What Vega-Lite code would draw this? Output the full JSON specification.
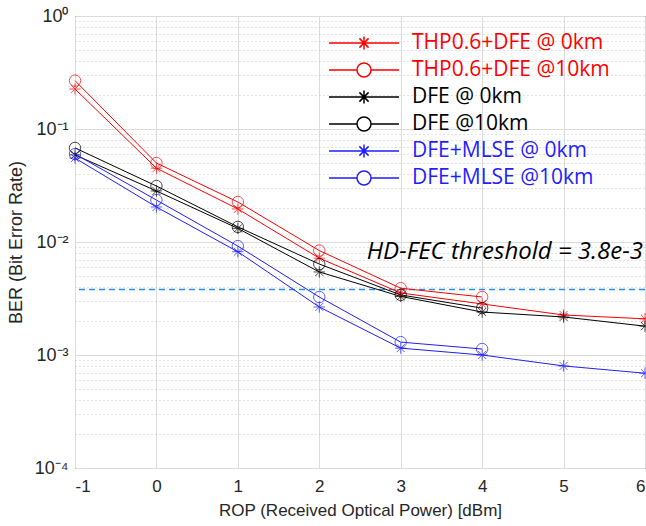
{
  "$schema": "https://vega.github.io/schema/vega-lite/v6.json",
  "width": 570,
  "height": 452,
  "autosize": {"type": "none"},
  "padding": {"left": 75, "top": 16, "right": 1, "bottom": 58},
  "background": "white",
  "config": {
    "view": {"stroke": "#262626", "strokeWidth": 1},
    "axis": {"labelFont": "Liberation Sans", "titleFont": "Liberation Sans", "labelColor": "#262626", "titleColor": "#262626", "titleFontWeight": "normal", "domain": false, "ticks": false}
  },
  "datasets": {
    "curves": [
      {"series": "THP0.6+DFE @ 0km", "marker": "star", "rop": -1, "ber": 0.226},
      {"series": "THP0.6+DFE @ 0km", "marker": "star", "rop": 0, "ber": 0.045},
      {"series": "THP0.6+DFE @ 0km", "marker": "star", "rop": 1, "ber": 0.0196},
      {"series": "THP0.6+DFE @ 0km", "marker": "star", "rop": 2, "ber": 0.0072},
      {"series": "THP0.6+DFE @ 0km", "marker": "star", "rop": 3, "ber": 0.00354},
      {"series": "THP0.6+DFE @ 0km", "marker": "star", "rop": 4, "ber": 0.00283},
      {"series": "THP0.6+DFE @ 0km", "marker": "star", "rop": 5, "ber": 0.00226},
      {"series": "THP0.6+DFE @ 0km", "marker": "star", "rop": 6, "ber": 0.00209},
      {"series": "THP0.6+DFE @10km", "marker": "circle", "rop": -1, "ber": 0.268},
      {"series": "THP0.6+DFE @10km", "marker": "circle", "rop": 0, "ber": 0.050},
      {"series": "THP0.6+DFE @10km", "marker": "circle", "rop": 1, "ber": 0.0226},
      {"series": "THP0.6+DFE @10km", "marker": "circle", "rop": 2, "ber": 0.0084},
      {"series": "THP0.6+DFE @10km", "marker": "circle", "rop": 3, "ber": 0.0039},
      {"series": "THP0.6+DFE @10km", "marker": "circle", "rop": 4, "ber": 0.00326},
      {"series": "DFE @ 0km", "marker": "star", "rop": -1, "ber": 0.059},
      {"series": "DFE @ 0km", "marker": "star", "rop": 0, "ber": 0.0283},
      {"series": "DFE @ 0km", "marker": "star", "rop": 1, "ber": 0.0132},
      {"series": "DFE @ 0km", "marker": "star", "rop": 2, "ber": 0.00543},
      {"series": "DFE @ 0km", "marker": "star", "rop": 3, "ber": 0.0033},
      {"series": "DFE @ 0km", "marker": "star", "rop": 4, "ber": 0.0024},
      {"series": "DFE @ 0km", "marker": "star", "rop": 5, "ber": 0.00217},
      {"series": "DFE @ 0km", "marker": "star", "rop": 6, "ber": 0.0018},
      {"series": "DFE @10km", "marker": "circle", "rop": -1, "ber": 0.068},
      {"series": "DFE @10km", "marker": "circle", "rop": 0, "ber": 0.0313},
      {"series": "DFE @10km", "marker": "circle", "rop": 1, "ber": 0.0136},
      {"series": "DFE @10km", "marker": "circle", "rop": 2, "ber": 0.00638},
      {"series": "DFE @10km", "marker": "circle", "rop": 3, "ber": 0.0034},
      {"series": "DFE @10km", "marker": "circle", "rop": 4, "ber": 0.0026},
      {"series": "DFE+MLSE @ 0km", "marker": "star", "rop": -1, "ber": 0.0553},
      {"series": "DFE+MLSE @ 0km", "marker": "star", "rop": 0, "ber": 0.0204},
      {"series": "DFE+MLSE @ 0km", "marker": "star", "rop": 1, "ber": 0.0082},
      {"series": "DFE+MLSE @ 0km", "marker": "star", "rop": 2, "ber": 0.00266},
      {"series": "DFE+MLSE @ 0km", "marker": "star", "rop": 3, "ber": 0.00115},
      {"series": "DFE+MLSE @ 0km", "marker": "star", "rop": 4, "ber": 0.0010},
      {"series": "DFE+MLSE @ 0km", "marker": "star", "rop": 5, "ber": 0.0008},
      {"series": "DFE+MLSE @ 0km", "marker": "star", "rop": 6, "ber": 0.00069},
      {"series": "DFE+MLSE @10km", "marker": "circle", "rop": -1, "ber": 0.060},
      {"series": "DFE+MLSE @10km", "marker": "circle", "rop": 0, "ber": 0.0235},
      {"series": "DFE+MLSE @10km", "marker": "circle", "rop": 1, "ber": 0.0092},
      {"series": "DFE+MLSE @10km", "marker": "circle", "rop": 2, "ber": 0.00326},
      {"series": "DFE+MLSE @10km", "marker": "circle", "rop": 3, "ber": 0.0013},
      {"series": "DFE+MLSE @10km", "marker": "circle", "rop": 4, "ber": 0.00113}
    ],
    "threshold": [{"ber": 0.0038}],
    "note": [{"rop": 6, "ber": 0.0082, "label": "HD-FEC threshold = 3.8e-3"}]
  },
  "layer": [
    {
      "data": {"name": "threshold"},
      "mark": {"type": "rule", "color": "#2a8ee8", "strokeWidth": 1.3, "strokeDash": [6, 4]},
      "encoding": {
        "y": {"field": "ber", "type": "quantitative", "scale": {"type": "log", "domain": [0.0001, 1], "nice": false},
          "axis": {
            "title": "BER (Bit Error Rate)", "titleFontSize": 18, "titlePadding": 9,
            "values": [0.0001,0.0002,0.0003,0.0004,0.0005,0.0006,0.0007,0.0008,0.0009,0.001,0.002,0.003,0.004,0.005,0.006,0.007,0.008,0.009,0.01,0.02,0.03,0.04,0.05,0.06,0.07,0.08,0.09,0.1,0.2,0.3,0.4,0.5,0.6,0.7,0.8,0.9,1],
            "labelExpr": "datum.value == 1 ? '10⁰' : abs(datum.value - 0.1) < 1e-9 ? '10⁻¹' : abs(datum.value - 0.01) < 1e-10 ? '10⁻²' : abs(datum.value - 0.001) < 1e-11 ? '10⁻³' : abs(datum.value - 0.0001) < 1e-12 ? '10⁻⁴' : ''",
            "labelFontSize": 18, "labelPadding": 7,
            "gridColor": {"condition": {"test": "indexof([1,0.1,0.01,0.001,0.0001], datum.value) >= 0", "value": "#dcdcdc"}, "value": "#c4c4c4"},
            "gridDash": {"condition": {"test": "indexof([1,0.1,0.01,0.001,0.0001], datum.value) >= 0", "value": []}, "value": [1, 3]}
          }
        }
      }
    },
    {
      "data": {"name": "curves"},
      "mark": {"type": "line", "strokeWidth": 1},
      "encoding": {
        "x": {"field": "rop", "type": "quantitative", "scale": {"domain": [-1, 6], "nice": false},
          "axis": {"title": "ROP (Received Optical Power) [dBm]", "titleFontSize": 17, "titlePadding": 8, "values": [-1,0,1,2,3,4,5,6], "labelExpr": "datum.value < 0 ? '-' + abs(datum.value) : '' + datum.value", "labelFontSize": 17, "labelPadding": 10, "gridColor": "#dcdcdc"}},
        "y": {"field": "ber", "type": "quantitative"},
        "color": {"field": "series", "type": "nominal",
          "scale": {"domain": ["THP0.6+DFE @ 0km","THP0.6+DFE @10km","DFE @ 0km","DFE @10km","DFE+MLSE @ 0km","DFE+MLSE @10km"],
                    "range": ["#ff0000","#ff0000","#000000","#000000","#1f1fff","#1f1fff"]},
          "legend": {
            "title": null, "orient": "none", "legendX": 278, "legendY": 16,
            "labelFont": "Open Sans", "labelFontSize": 21, "labelOffset": 37, "rowPadding": 6, "symbolSize": 400,
            "labelLimit": 400,
            "encode": {
              "symbols": {"update": {
                "shape": {"signal": "indexof(datum.value, '10km') >= 0 ? 'M-3.5,0H-0.7M0.7,0H3.5M0.7,0A0.7,0.7 0 1 1 -0.7,0A0.7,0.7 0 1 1 0.7,0' : 'M-3.5,0H3.5M0,-0.65V0.65M-0.46,-0.46L0.46,0.46M-0.46,0.46L0.46,-0.46'"},
                "size": {"value": 400},
                "fill": {"value": "white"},
                "fillOpacity": {"value": 1},
                "stroke": {"signal": "scale('color', datum.value)"},
                "strokeWidth": {"value": 1.5}
              }},
              "labels": {"update": {"fill": {"signal": "scale('color', datum.value)"}}}
            }
          }
        }
      }
    },
    {
      "data": {"name": "curves"},
      "mark": {"type": "point", "filled": false, "strokeWidth": 1, "size": 130},
      "encoding": {
        "x": {"field": "rop", "type": "quantitative"},
        "y": {"field": "ber", "type": "quantitative"},
        "color": {"field": "series", "type": "nominal"},
        "shape": {"field": "marker", "type": "nominal",
          "scale": {"domain": ["star", "circle"], "range": ["M0,-1V1M-1,0H1M-0.7,-0.7L0.7,0.7M-0.7,0.7L0.7,-0.7", "circle"]},
          "legend": null}
      }
    },
    {
      "data": {"name": "note"},
      "mark": {"type": "text", "font": "Open Sans", "fontSize": 24, "fontStyle": "italic", "align": "right", "baseline": "middle", "dx": -2, "color": "#000000"},
      "encoding": {
        "x": {"field": "rop", "type": "quantitative"},
        "y": {"field": "ber", "type": "quantitative"},
        "text": {"field": "label"}
      }
    }
  ]
}
